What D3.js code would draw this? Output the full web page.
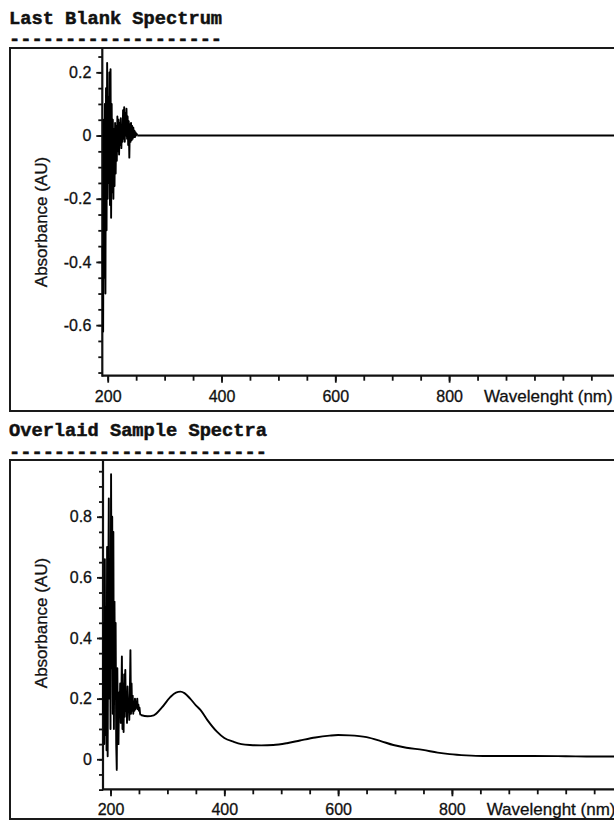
<!DOCTYPE html>
<html>
<head>
<meta charset="utf-8">
<script src="https://cdn.jsdelivr.net/npm/d3@7"></script>
<style>
  body { margin: 0; background: #fff; }
  svg { display: block; }
  .title { font-family: "Liberation Mono", "DejaVu Sans Mono", monospace; font-weight: bold; font-size: 18.7px; fill: #111; stroke: #111; stroke-width: 0.5px; }
  .tick text { font-family: "Liberation Sans", Arial, sans-serif; font-size: 16px; fill: #111; stroke: #111; stroke-width: 0.3px; }
  .axis-title { font-family: "Liberation Sans", Arial, sans-serif; font-size: 17px; fill: #111; stroke: #111; stroke-width: 0.3px; }
</style>
</head>
<body>
<div id="chart"></div>
<script>
'use strict';

// panel titles
var titles = ['Last Blank Spectrum', 'Overlaid Sample Spectra'];

// blank spectrum: noisy start, then flat baseline [nm, AU]
var blankNoise = [
  [191, -0.35], [192, -0.62], [193, 0.05], [194, -0.45], [195, 0.1], [196, -0.5],
  [197, 0.15], [198, -0.3], [199, 0.23], [200, -0.2], [201, 0.12], [202, -0.15],
  [203, 0.2], [204, -0.22], [205, 0.21], [206, -0.26], [207, 0.1], [208, -0.18],
  [209, 0.05], [210, -0.2], [211, 0.02], [212, -0.16], [213, 0.04], [214, -0.12],
  [215, 0.03], [216, -0.08], [217, 0.06], [218, -0.05], [219, 0.05], [220, -0.06],
  [221, 0.04], [222, -0.03], [223, 0.055], [224, -0.04], [225, 0.03], [226, -0.02],
  [227, 0.08], [228, -0.01], [229, 0.09], [230, -0.02], [231, 0.07], [232, 0.0],
  [233, 0.085], [234, -0.01], [235, 0.06], [236, -0.03], [237, 0.045], [238, -0.07],
  [239, 0.035], [240, -0.02], [241, 0.04], [242, -0.015], [243, 0.03], [244, -0.01],
  [245, 0.025], [246, -0.005], [247, 0.015], [248, -0.005], [249, 0.01], [250, 0],
  [251, 0.005], [252, 0]
];
var blankFlat = [[252, 0], [500, 0], [800, 0], [1125, 0]];

// sample spectrum: noisy start, then smooth bands [nm, AU]
var sampleNoise = [
  [187, 0.15], [188, 0.45], [189, 0.05], [190, 0.66], [191, 0.08], [192, 0.5],
  [193, 0.03], [194, 0.70], [195, 0.01], [196, 0.55], [197, 0.86], [198, 0.2],
  [199, 0.6], [200, 0.1], [201, 0.94], [202, 0.3], [203, 0.8], [204, 0.15],
  [205, 0.75], [206, 0.1], [207, 0.52], [208, 0.2], [209, 0.45], [210, 0.05],
  [211, -0.035], [212, 0.3], [213, 0.08], [214, 0.05], [215, 0.22], [216, 0.15],
  [217, 0.25], [218, 0.12], [219, 0.2], [220, 0.339], [221, 0.1], [222, 0.25],
  [223, 0.09], [224, 0.28], [225, 0.14], [226, 0.295], [227, 0.16], [228, 0.22],
  [229, 0.12], [230, 0.24], [231, 0.16], [232, 0.2], [233, 0.13], [234, 0.22],
  [235, 0.36], [236, 0.15], [237, 0.25], [238, 0.16], [239, 0.21], [240, 0.15],
  [241, 0.19], [242, 0.16], [243, 0.2], [244, 0.165], [245, 0.19], [246, 0.17],
  [247, 0.2], [248, 0.165], [249, 0.18], [250, 0.16], [251, 0.17], [252, 0.15],
  [253, 0.146]
];
var sampleSmooth = [
  [253, 0.146], [265, 0.142], [276, 0.145], [290, 0.17], [305, 0.205], [315, 0.22],
  [323, 0.223], [330, 0.218], [340, 0.2], [350, 0.178], [358, 0.163], [370, 0.13],
  [387, 0.091], [400, 0.07], [416, 0.058], [430, 0.05], [445, 0.047], [465, 0.046],
  [486, 0.047], [510, 0.053], [533, 0.062], [560, 0.072], [585, 0.078], [600, 0.08],
  [620, 0.079], [650, 0.073], [675, 0.06], [697, 0.047], [720, 0.038], [749, 0.031],
  [775, 0.022], [796, 0.017], [825, 0.013], [855, 0.011], [900, 0.011], [942, 0.011],
  [1000, 0.01], [1050, 0.009], [1125, 0.009]
];

// tick values
var xMajor = [200, 400, 600, 800];
var xMinor = d3.range(200, 1101, 50);
var blankMajor = [0.2, 0, -0.2, -0.4, -0.6];
var blankMinor = d3.range(-0.75, 0.26, 0.05);
var sampleMajor = [0, 0.2, 0.4, 0.6, 0.8];
var sampleMinor = d3.range(-0.1, 0.96, 0.05);

var width = 614, height = 820;

var svg = d3.select('#chart').append('svg')
  .attr('width', width)
  .attr('height', height);

var fmt = function(d){ return d === 0 ? '0' : d3.format('.1f')(d).replace('\u2212', '-'); };

var panels = [
  { title: titles[0], titleY: 24, dashY: 44.5, boxTop: 48, boxBottom: 411,
    axisX: 102.3, axisY: 375.7, xDomain: [190.5, 1125],
    yDomain: [-0.76, 0.277], yMajor: blankMajor, yMinor: blankMinor,
    labelY: 222, lines: [[blankNoise, d3.curveLinear], [blankFlat, d3.curveLinear]] },
  { title: titles[1], titleY: 436, dashY: 457.5, boxTop: 460, boxBottom: 819,
    axisX: 103, axisY: 789.3, xDomain: [186.8, 1125],
    yDomain: [-0.099, 0.987], yMajor: sampleMajor, yMinor: sampleMinor,
    labelY: 623, lines: [[sampleNoise, d3.curveLinear], [sampleSmooth, d3.curveMonotoneX]] }
];

panels.forEach(function(p){
  var g = svg.append('g');

  g.append('text').attr('class', 'title')
    .attr('x', 9).attr('y', p.titleY).text(p.title);
  g.append('text').attr('class', 'title')
    .attr('x', 9).attr('y', p.dashY)
    .text(p.title.replace(/./g, '-'));

  // frame (right side runs off the page)
  g.append('rect')
    .attr('x', 10).attr('y', p.boxTop)
    .attr('width', 640).attr('height', p.boxBottom - p.boxTop)
    .attr('fill', 'none').attr('stroke', '#1a1a1a').attr('stroke-width', 2);

  var xEnd = p.axisX + (p.xDomain[1] - p.xDomain[0]) * 0.569;
  var x = d3.scaleLinear().domain(p.xDomain).range([p.axisX, xEnd]);
  var y = d3.scaleLinear().domain(p.yDomain).range([p.axisY, p.boxTop]);

  // minor ticks
  g.append('g').attr('transform', 'translate(0,' + p.axisY + ')')
    .call(d3.axisBottom(x).tickValues(xMinor).tickSize(5).tickSizeOuter(0).tickFormat(''))
    .call(function(a){ a.select('.domain').remove(); });
  g.append('g').attr('transform', 'translate(' + p.axisX + ',0)')
    .call(d3.axisLeft(y).tickValues(p.yMinor).tickSize(4).tickSizeOuter(0).tickFormat(''))
    .call(function(a){ a.select('.domain').remove(); });

  // major ticks + labels
  var xa = g.append('g').attr('transform', 'translate(0,' + p.axisY + ')')
    .call(d3.axisBottom(x).tickValues(xMajor).tickSize(7).tickSizeOuter(0).tickPadding(4));
  xa.select('.domain').remove();
  xa.selectAll('.tick text').attr('dy', '0.95em');

  var ya = g.append('g').attr('transform', 'translate(' + p.axisX + ',0)')
    .call(d3.axisLeft(y).tickValues(p.yMajor).tickSize(6).tickSizeOuter(0).tickPadding(5).tickFormat(fmt));
  ya.select('.domain').remove();

  svg.selectAll('.tick line').attr('stroke', '#111').attr('stroke-width', 1.8);

  // axis lines
  g.append('line').attr('x1', p.axisX).attr('x2', p.axisX)
    .attr('y1', p.boxTop).attr('y2', p.axisY + 1)
    .attr('stroke', '#111').attr('stroke-width', 2.2);
  g.append('line').attr('x1', p.axisX).attr('x2', width + 10)
    .attr('y1', p.axisY).attr('y2', p.axisY)
    .attr('stroke', '#111').attr('stroke-width', 2.2);

  // axis titles
  g.append('text').attr('class', 'axis-title')
    .attr('x', x(1000) - 79).attr('y', p.axisY + 26)
    .text('Wavelenght (nm)');
  g.append('text').attr('class', 'axis-title')
    .attr('transform', 'translate(47,' + p.labelY + ') rotate(-90)')
    .attr('text-anchor', 'middle')
    .text('Absorbance (AU)');

  // spectra
  p.lines.forEach(function(l){
    var line = d3.line()
      .x(function(d){ return x(d[0]); })
      .y(function(d){ return y(d[1]); })
      .curve(l[1]);
    g.append('path').datum(l[0])
      .attr('d', line)
      .attr('fill', 'none')
      .attr('stroke', '#000')
      .attr('stroke-width', 1.9)
      .attr('stroke-linejoin', 'round');
  });
});
</script>
</body>
</html>
